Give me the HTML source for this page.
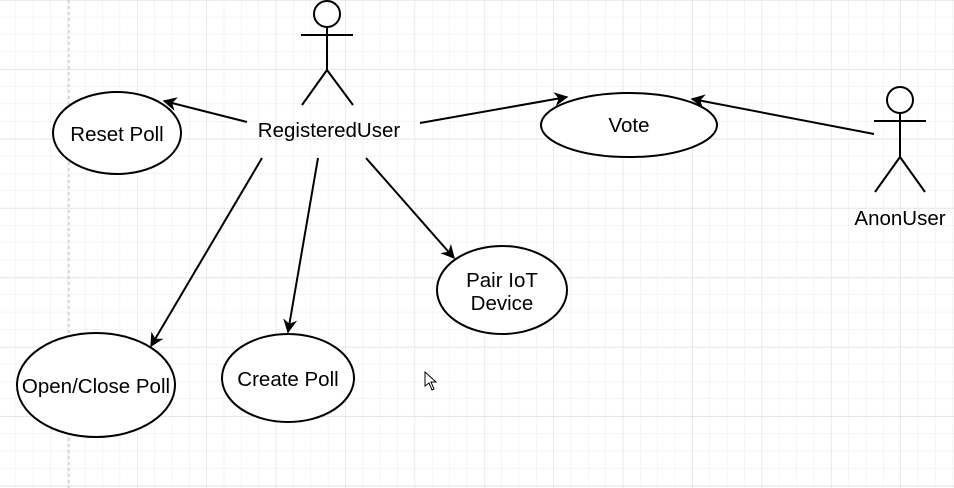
<!DOCTYPE html>
<html><head><style>
html,body{margin:0;padding:0;background:#fff;}
svg{display:block;}
text{font-family:"Liberation Sans",Arial,sans-serif;font-size:20.5px;fill:#000;}
</style></head><body>
<svg width="954" height="488" viewBox="0 0 954 488" xmlns="http://www.w3.org/2000/svg">
<defs>
<pattern id="g" x="-1.3" y="0" width="17.35" height="17.35" patternUnits="userSpaceOnUse">
<path d="M17.35 0V17.35M0 17.35H17.35" stroke="#ebebeb" stroke-width="1" fill="none"/>
</pattern>
<pattern id="G" x="-1.3" y="0.6" width="69.4" height="69.4" patternUnits="userSpaceOnUse">
<path d="M69.4 0V69.4M0 69.4H69.4" stroke="#dcdcdc" stroke-width="1" fill="none"/>
</pattern>
<marker id="a" viewBox="0 0 10 10" refX="9" refY="5" markerWidth="14" markerHeight="14" markerUnits="userSpaceOnUse" orient="auto">
<path d="M0 0L10 5L0 10L3 5Z" fill="#000"/>
</marker>
</defs>
<rect width="954" height="488" fill="url(#g)"/>
<rect width="954" height="488" fill="url(#G)"/>
<line x1="69" y1="0" x2="69" y2="488" stroke="#bbb" stroke-dasharray="3,3"/>
<g stroke="#000" stroke-width="2" fill="#fff">
<circle cx="327" cy="14" r="13"/>
<line x1="301" y1="35" x2="353" y2="35"/>
<line x1="327" y1="27" x2="327" y2="70"/>
<line x1="327" y1="70" x2="302" y2="105"/>
<line x1="327" y1="70" x2="353" y2="105"/>
<circle cx="900" cy="100" r="13"/>
<line x1="874" y1="121" x2="926" y2="121"/>
<line x1="900" y1="113" x2="900" y2="157"/>
<line x1="900" y1="157" x2="875" y2="192"/>
<line x1="900" y1="157" x2="925" y2="192"/>
<ellipse cx="117" cy="133" rx="64" ry="41"/>
<ellipse cx="629" cy="125" rx="88" ry="32"/>
<ellipse cx="502" cy="290" rx="65" ry="44"/>
<ellipse cx="288" cy="378" rx="66" ry="44"/>
<ellipse cx="96" cy="385" rx="79" ry="52"/>
</g>
<g stroke="#000" stroke-width="2" marker-end="url(#a)">
<line x1="247" y1="122" x2="164" y2="101"/>
<line x1="420" y1="123" x2="567" y2="97"/>
<line x1="874" y1="134" x2="692" y2="99"/>
<line x1="262" y1="158" x2="151" y2="346"/>
<line x1="318" y1="158" x2="288" y2="332"/>
<line x1="366" y1="158" x2="454" y2="258"/>
</g>
<text x="329" y="137" text-anchor="middle">RegisteredUser</text>
<text x="900" y="225" text-anchor="middle">AnonUser</text>
<text x="117" y="141" text-anchor="middle">Reset Poll</text>
<text x="629" y="132" text-anchor="middle">Vote</text>
<text x="502" y="287" text-anchor="middle">Pair IoT</text>
<text x="502" y="310" text-anchor="middle">Device</text>
<text x="288" y="386" text-anchor="middle">Create Poll</text>
<text x="96" y="393" text-anchor="middle">Open/Close Poll</text>
<path d="M425 372L425 386L429 383L432 390L434 389L431 382L436 382Z" fill="#fff" stroke="#000" stroke-width="1"/>
</svg>
</body></html>
